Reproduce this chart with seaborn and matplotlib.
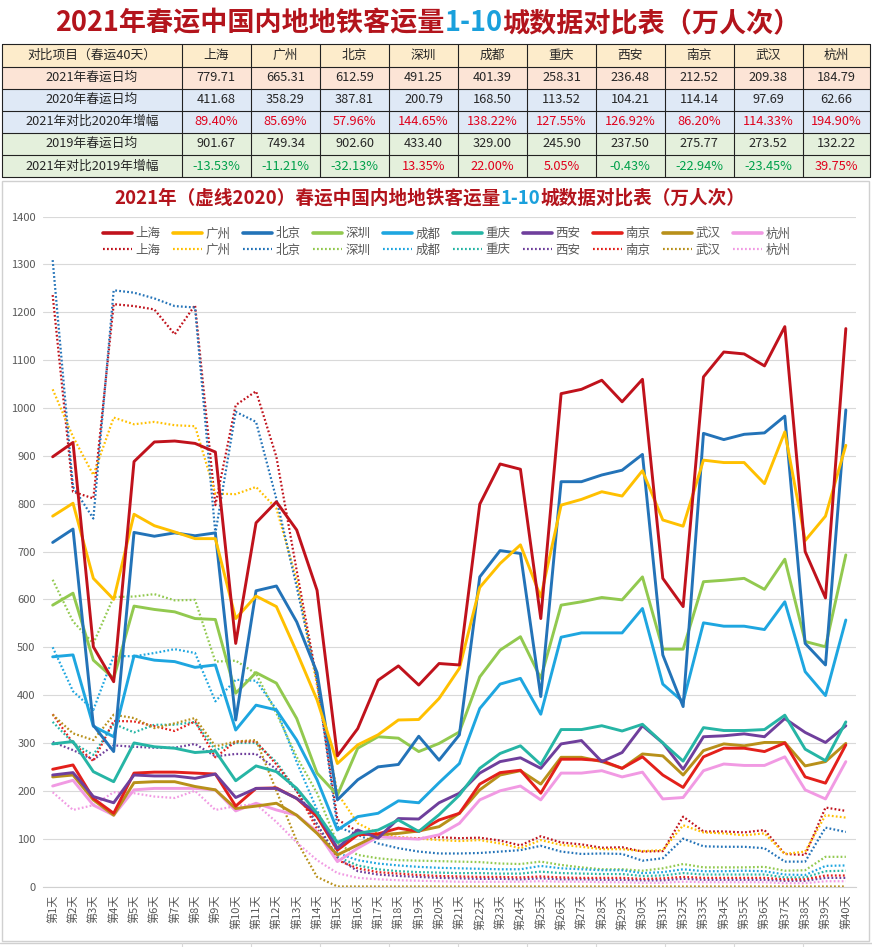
import matplotlib
matplotlib.use('Agg')
import matplotlib.pyplot as plt
import seaborn as sns
import pandas as pd
from matplotlib.lines import Line2D
from matplotlib.patches import Rectangle

# ---------------- data ----------------
cities = ['上海', '广州', '北京', '深圳', '成都', '重庆', '西安', '南京', '武汉', '杭州']
colors = ['#c0121c', '#ffc000', '#2373b8', '#92c94f', '#1ea6e0', '#26b5a5',
          '#6f3f9c', '#e3201b', '#b8901a', '#f19ae3']
day_labels = ['第%d天' % i for i in range(1, 41)]

avg2021 = [779.71, 665.31, 612.59, 491.25, 401.39, 258.31, 236.48, 212.52, 209.38, 184.79]
avg2020 = [411.68, 358.29, 387.81, 200.79, 168.50, 113.52, 104.21, 114.14, 97.69, 62.66]
growth2020 = [89.40, 85.69, 57.96, 144.65, 138.22, 127.55, 126.92, 86.20, 114.33, 194.90]
avg2019 = [901.67, 749.34, 902.60, 433.40, 329.00, 245.90, 237.50, 275.77, 273.52, 132.22]
growth2019 = [-13.53, -11.21, -32.13, 13.35, 22.00, 5.05, -0.43, -22.94, -23.45, 39.75]

sh21 = [898, 928, 501, 428, 888, 929, 931, 926, 908, 508, 760, 804, 745, 619, 273, 330, 431, 461, 421, 466,
        463, 799, 883, 872, 560, 1030, 1039, 1058, 1013, 1060, 644, 585, 1065, 1117, 1113, 1088, 1170, 700, 603, 1166]
gz21 = [774, 801, 644, 600, 778, 754, 741, 727, 727, 560, 607, 585, 490, 390, 257, 296, 317, 348, 349, 393,
        456, 625, 675, 714, 605, 797, 809, 825, 816, 869, 766, 753, 891, 886, 886, 842, 950, 723, 774, 922]
bj21 = [719, 747, 337, 282, 740, 732, 739, 733, 739, 348, 618, 628, 553, 447, 181, 223, 250, 255, 314, 264,
        317, 647, 702, 696, 397, 846, 846, 860, 870, 903, 484, 376, 947, 934, 945, 948, 983, 508, 463, 996]
sz21 = [588, 613, 473, 435, 586, 579, 574, 560, 558, 404, 447, 425, 351, 237, 191, 289, 313, 310, 282, 299,
        323, 438, 494, 522, 435, 588, 595, 604, 599, 647, 496, 496, 637, 640, 644, 621, 684, 512, 501, 693]
cd21 = [480, 484, 335, 313, 482, 473, 470, 458, 463, 327, 379, 369, 306, 223, 118, 146, 153, 179, 175, 217,
        257, 372, 423, 435, 360, 521, 530, 530, 530, 581, 423, 386, 551, 544, 544, 537, 595, 449, 399, 557]
cq21 = [298, 303, 240, 219, 300, 292, 289, 280, 283, 221, 252, 240, 205, 153, 92, 111, 118, 139, 115, 150,
        191, 247, 278, 294, 255, 328, 328, 336, 325, 339, 300, 262, 332, 326, 326, 328, 358, 287, 263, 344]
xa21 = [233, 238, 188, 175, 233, 231, 231, 226, 235, 186, 205, 205, 184, 153, 80, 118, 101, 142, 141, 175,
        195, 237, 261, 269, 247, 298, 305, 261, 280, 336, 300, 245, 313, 315, 319, 313, 351, 322, 301, 336]
nj21 = [245, 254, 184, 153, 237, 239, 239, 237, 235, 168, 205, 206, 184, 146, 76, 108, 110, 122, 115, 139,
        153, 214, 238, 243, 195, 266, 266, 263, 247, 271, 233, 207, 271, 289, 289, 282, 300, 229, 216, 296]
wh21 = [229, 233, 181, 149, 217, 219, 219, 209, 202, 163, 168, 174, 149, 111, 66, 87, 108, 111, 116, 125,
        153, 202, 233, 242, 214, 270, 270, 261, 247, 277, 273, 233, 284, 298, 294, 301, 301, 252, 261, 299]
hz21 = [210, 222, 170, 149, 202, 205, 205, 205, 202, 158, 174, 160, 149, 115, 52, 80, 104, 101, 99, 108,
        132, 181, 200, 210, 181, 237, 237, 242, 229, 239, 183, 186, 242, 256, 253, 253, 271, 202, 183, 261]

sh20 = [1236, 825, 811, 1217, 1213, 1206, 1154, 1215, 797, 1006, 1035, 898, 660, 430, 140, 115, 105, 102, 101, 103,
        101, 102, 96, 86, 105, 92, 88, 81, 82, 73, 74, 146, 115, 115, 113, 118, 68, 66, 165, 158]
gz20 = [1039, 940, 860, 980, 966, 971, 964, 962, 821, 820, 835, 790, 640, 420, 195, 132, 111, 103, 100, 97,
        95, 97, 90, 80, 97, 87, 83, 78, 78, 74, 76, 128, 113, 111, 107, 111, 68, 73, 149, 144]
bj20 = [1309, 835, 769, 1246, 1241, 1229, 1213, 1210, 738, 992, 971, 810, 626, 431, 125, 108, 90, 80, 73, 69,
        69, 70, 73, 76, 85, 73, 68, 69, 68, 54, 59, 100, 84, 83, 83, 80, 52, 52, 123, 114]
sz20 = [641, 554, 508, 605, 606, 611, 598, 599, 470, 472, 445, 362, 271, 195, 90, 66, 59, 55, 54, 53,
        52, 51, 48, 47, 52, 45, 40, 36, 36, 33, 38, 47, 40, 40, 40, 41, 33, 34, 62, 62]
cd20 = [500, 408, 369, 482, 481, 488, 496, 488, 387, 432, 430, 370, 260, 160, 70, 55, 48, 44, 41, 39,
        38, 37, 36, 36, 43, 38, 36, 34, 34, 28, 30, 36, 32, 32, 33, 32, 25, 24, 43, 44]
cq20 = [344, 300, 275, 340, 322, 338, 338, 344, 285, 300, 300, 260, 200, 130, 62, 44, 36, 32, 30, 29,
        28, 28, 27, 27, 31, 28, 27, 26, 26, 22, 23, 28, 25, 25, 25, 25, 19, 19, 32, 33]
xa20 = [302, 285, 265, 295, 292, 290, 290, 298, 272, 277, 277, 245, 200, 130, 60, 32, 25, 22, 20, 18,
        17, 16, 16, 15, 17, 15, 15, 14, 14, 13, 13, 16, 14, 14, 14, 14, 12, 12, 18, 18]
nj20 = [360, 300, 262, 346, 345, 335, 325, 345, 270, 303, 303, 255, 200, 120, 55, 38, 30, 27, 24, 22,
        21, 20, 20, 19, 21, 19, 18, 18, 18, 16, 17, 20, 18, 18, 18, 18, 15, 15, 23, 23]
wh20 = [359, 320, 306, 359, 352, 331, 341, 352, 293, 303, 306, 200, 95, 20, 0, 0, 0, 0, 0, 0,
        0, 0, 0, 0, 0, 0, 0, 0, 0, 0, 0, 0, 0, 0, 0, 0, 0, 0, 0, 0]
hz20 = [197, 160, 170, 197, 195, 188, 185, 200, 160, 168, 172, 135, 92, 55, 28, 18, 15, 13, 12, 11,
        10, 10, 10, 10, 11, 10, 10, 9, 9, 8, 8, 10, 9, 9, 9, 9, 7, 7, 11, 11]

series21 = [sh21, gz21, bj21, sz21, cd21, cq21, xa21, nj21, wh21, hz21]
series20 = [sh20, gz20, bj20, sz20, cd20, cq20, xa20, nj20, wh20, hz20]

rows = []
for city, s21, s20 in zip(cities, series21, series20):
    for i, (a, b) in enumerate(zip(s21, s20)):
        rows.append((city, '2021', i, a))
        rows.append((city, '2020', i, b))
df = pd.DataFrame(rows, columns=['city', 'year', 'day', 'value'])

# ---------------- figure ----------------
sns.set_theme(style='white')
plt.rcParams['font.family'] = ['Noto Sans CJK SC', 'DejaVu Sans']
plt.rcParams['axes.unicode_minus'] = False

W, H = 872, 947
fig = plt.figure(figsize=(W / 100, H / 100), dpi=100)
fig.patch.set_facecolor('white')

bg = fig.add_axes([0, 0, 1, 1], zorder=0)
bg.set_xlim(0, W)
bg.set_ylim(H, 0)
bg.axis('off')

TITLE_RED = '#b3141c'
TITLE_BLUE = '#1aa0dc'


def multicolor(y_px, parts, fontsize, cx):
    renderer = fig.canvas.get_renderer()
    texts = [fig.text(0, 1 - y_px / H, s, color=c, fontsize=fontsize, fontweight='bold',
                      va='center', ha='left') for s, c in parts]
    widths = [t.get_window_extent(renderer).width for t in texts]
    x = cx - sum(widths) / 2
    for t, w in zip(texts, widths):
        t.set_x(x / W)
        x += w


multicolor(23, [('2021年春运中国内地地铁客运量', TITLE_RED), ('1-10', TITLE_BLUE),
                ('城数据对比表（万人次）', TITLE_RED)], 19.5, 428)

# ---------------- table ----------------
row_edges = [44, 66.5, 88.5, 110.5, 132.5, 155, 177]
col_edges = [2, 181.5, 251, 320, 389, 458, 527, 596, 664.5, 733.5, 802.5, 870]
row_bg = ['#fdeccb', '#fce4d6', '#dfe9f6', '#dfe9f6', '#e4f0dc', '#e4f0dc']
row_labels = ['对比项目（春运40天）', '2021年春运日均', '2020年春运日均', '2021年对比2020年增幅',
              '2019年春运日均', '2021年对比2019年增幅']
for r in range(6):
    y0, y1 = row_edges[r], row_edges[r + 1]
    bg.add_patch(Rectangle((col_edges[0], y0), col_edges[-1] - col_edges[0], y1 - y0,
                           facecolor=row_bg[r], edgecolor='none'))
for y in row_edges:
    bg.plot([col_edges[0], col_edges[-1]], [y, y], color='#222222', lw=0.8)
for x in col_edges:
    bg.plot([x, x], [row_edges[0], row_edges[-1]], color='#222222', lw=0.8)

RED = '#e0001b'
GREEN = '#00a04a'
TXT = '#262626'
tfs = 9.2
for r in range(6):
    yc = (row_edges[r] + row_edges[r + 1]) / 2
    bg.text((col_edges[0] + col_edges[1]) / 2, yc, row_labels[r], ha='center', va='center',
            fontsize=tfs, color=TXT)
    for c in range(10):
        xc = (col_edges[c + 1] + col_edges[c + 2]) / 2
        if r == 0:
            s, col = cities[c], TXT
        elif r == 1:
            s, col = '%.2f' % avg2021[c], TXT
        elif r == 2:
            s, col = '%.2f' % avg2020[c], TXT
        elif r == 3:
            s, col = '%.2f%%' % growth2020[c], RED
        elif r == 4:
            s, col = '%.2f%%' % avg2019[c], TXT
            s = '%.2f' % avg2019[c]
        else:
            g = growth2019[c]
            s, col = '%.2f%%' % g, (RED if g > 0 else GREEN)
        bg.text(xc, yc, s, ha='center', va='center', fontsize=tfs, color=col)

# chart frame
bg.add_patch(Rectangle((1.5, 181), 867, 760, facecolor='none', edgecolor='#d0d0d0', lw=1))
bg.plot([0, W], [943, 943], color='#d0d0d0', lw=1)
for x in col_edges[1:-1]:
    bg.plot([x, x], [943, H], color='#d8d8d8', lw=0.8)

multicolor(198, [('2021年（虚线2020）春运中国内地地铁客运量', TITLE_RED), ('1-10', TITLE_BLUE),
                 ('城数据对比表（万人次）', TITLE_RED)], 13.4, 430)

# ---------------- chart ----------------
left, right, top, bottom = 42.5, 856, 216.6, 886.5
ax = fig.add_axes([left / W, (H - bottom) / H, (right - left) / W, (bottom - top) / H], zorder=2)
ax.patch.set_alpha(0)

for city, col in zip(cities, colors):
    sub = df[(df.city == city) & (df.year == '2020')]
    sns.lineplot(data=sub, x='day', y='value', ax=ax, color=col, linewidth=1.6,
                 linestyle=(0, (0.8, 1.0)), legend=False, zorder=2)
for city, col in reversed(list(zip(cities, colors))):
    sub = df[(df.city == city) & (df.year == '2021')]
    sns.lineplot(data=sub, x='day', y='value', ax=ax, color=col, linewidth=2.1,
                 legend=False, zorder=3)

ax.set_xlim(-0.5, 39.5)
ax.set_ylim(0, 1400)
ax.set_yticks(range(0, 1401, 100))
ax.set_xticks(range(40))
ax.set_xticklabels(day_labels, rotation=90, fontsize=8, color='#595959')
ax.tick_params(axis='y', labelsize=8, labelcolor='#595959', length=0, pad=5)
ax.tick_params(axis='x', length=0, pad=6)
ax.set_xlabel('')
ax.set_ylabel('')
ax.yaxis.grid(True, color='#d9d9d9', lw=0.8)
ax.xaxis.grid(False)
for s in ['left', 'right', 'top']:
    ax.spines[s].set_visible(False)
ax.spines['bottom'].set_color('#d0d0d0')
ax.spines['bottom'].set_linewidth(0.8)

handles, labels = [], []
for city, col in zip(cities, colors):
    handles.append(Line2D([], [], color=col, lw=2.6))
    labels.append(city)
    handles.append(Line2D([], [], color=col, lw=1.6, linestyle=(0, (0.8, 1.0))))
    labels.append(city)
ax.legend(handles, labels, ncol=10, loc='center', bbox_to_anchor=(447 / W, 1 - 242 / H),
          bbox_transform=fig.transFigure, frameon=False, fontsize=9, handlelength=2.3,
          columnspacing=1.0, handletextpad=0.3, labelspacing=0.25, labelcolor='#595959')

fig.savefig('out.png', dpi=100, facecolor='white')
